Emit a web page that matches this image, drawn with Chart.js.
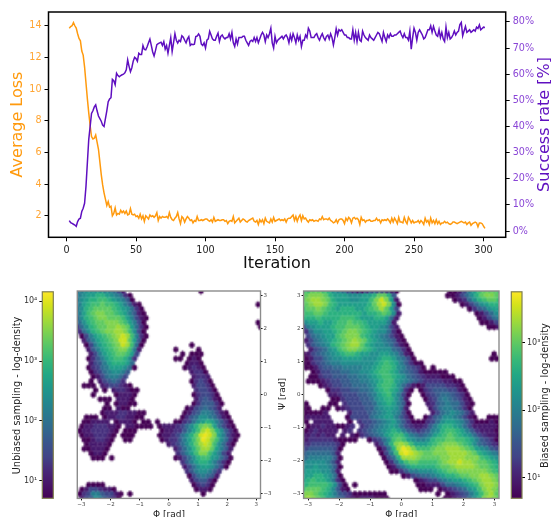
<!DOCTYPE html>
<html>
<head>
<meta charset="utf-8">
<title>Training curves and sampling densities</title>
<script src="https://cdn.jsdelivr.net/npm/chart.js@4"></script>
<style>
    html, body { margin: 0; padding: 0; background: #fff; overflow: hidden; }
    canvas { position: absolute; filter: blur(0.3px); }
</style>
</head>
<body>
<canvas id="curveChart" width="551" height="285" style="left:0;top:0"></canvas>
<canvas id="unbiasedBar" width="60" height="232" style="left:0;top:285px"></canvas>
<canvas id="unbiasedHex" width="215" height="232" style="left:60px;top:285px"></canvas>
<canvas id="biasedHex" width="230" height="232" style="left:275px;top:285px"></canvas>
<canvas id="biasedBar" width="46" height="232" style="left:505px;top:285px"></canvas>
<script>
// Values
const averageLoss = [
    13.85, 13.95, 14.0, 14.2, 14.0, 13.85, 13.5, 13.2, 13.05,
    12.4, 12.15, 11.4, 10.4, 9.4, 8.5, 7.7, 7.0, 6.85, 6.9,
    7.1, 6.65, 6.2, 5.4, 4.6, 3.95, 3.45, 3.05, 2.65, 2.9,
    2.55, 2.6, 2.0, 2.15, 2.5, 2.05, 2.15, 2.1, 2.35, 2.2,
    2.3, 2.15, 2.3, 2.05, 2.1, 2.45, 2.1, 2.05, 2.1, 1.95,
    2.0, 1.85, 2.1, 1.8, 2.0, 1.65, 2.0, 1.9, 1.8, 2.05,
    1.95, 2.0, 1.9, 2.0, 2.2, 1.7, 1.95, 1.85, 1.95, 1.9,
    1.9, 1.95, 1.85, 2.2, 1.9, 1.75, 1.7, 1.85, 1.95, 2.2,
    1.8, 1.5, 1.95, 1.85, 1.6, 1.8, 1.95, 1.85, 1.7, 1.75,
    1.55, 1.7, 1.65, 1.95, 1.7, 1.7, 1.75, 1.7, 1.75, 1.8,
    1.8, 1.7, 1.65, 1.75, 1.6, 1.9, 1.65, 1.7, 1.75, 1.7,
    1.7, 1.75, 1.75, 1.65, 1.7, 1.5, 1.65, 1.7, 1.65, 1.95,
    1.55, 1.65, 1.75, 1.85, 1.6, 1.7, 1.8, 1.75, 1.65, 1.6,
    1.7, 1.75, 1.8, 1.85, 1.65, 1.6, 1.7, 1.45, 1.75, 1.6,
    1.75, 1.5, 1.85, 1.65, 1.6, 1.55, 1.8, 1.6, 1.9, 1.65,
    1.7, 1.75, 1.8, 1.7, 1.75, 1.7, 1.8, 1.6, 1.8, 1.85,
    1.85, 1.95, 2.05, 1.7, 1.95, 1.65, 1.9, 2.05, 1.7, 2.0,
    1.8, 1.85, 1.7, 1.6, 1.75, 1.7, 1.75, 1.65, 1.7, 1.7,
    1.65, 1.8, 1.75, 1.95, 1.75, 1.8, 1.8, 1.75, 1.85, 1.7,
    1.65, 1.55, 1.6, 1.75, 1.55, 1.75, 1.8, 1.8, 1.7, 1.5,
    1.85, 1.7, 1.9, 1.8, 1.55, 1.85, 1.9, 1.8, 1.85, 1.75,
    1.45, 1.9, 1.7, 1.75, 1.6, 1.7, 1.7, 1.75, 1.65, 1.65,
    1.7, 1.7, 1.85, 1.7, 1.75, 1.55, 1.75, 1.7, 1.75, 1.7,
    1.8, 1.7, 1.55, 1.85, 1.6, 1.85, 1.7, 1.5, 1.9, 1.6,
    1.6, 1.55, 1.9, 1.65, 1.5, 1.9, 1.75, 1.55, 1.7, 1.55,
    1.6, 1.6, 1.7, 1.55, 1.7, 1.6, 1.45, 1.85, 1.6, 1.7,
    1.45, 1.85, 1.55, 1.7, 1.5, 1.75, 1.5, 1.65, 1.45, 1.55,
    1.55, 1.65, 1.55, 1.6, 1.5, 1.45, 1.5, 1.6, 1.6, 1.55,
    1.5, 1.55, 1.6, 1.65, 1.6, 1.55, 1.6, 1.45, 1.55, 1.6,
    1.4, 1.5, 1.55, 1.6, 1.55, 1.3, 1.55, 1.55, 1.5, 1.35, 1.2
];

const successRate = [
    4.0, 3.2, 2.9, 2.6, 2.3, 1.8, 3.6, 4.6, 4.9,
    7.5, 8.7, 10.6, 17, 26, 35, 40, 45, 46, 47.5,
    48.3, 46, 44, 43, 42, 40.5, 40, 43, 46, 49.5,
    50.5, 51, 58, 57.5, 56, 60.4, 59.5, 59, 59.5, 59.8,
    60, 60.5, 61.7, 65.5, 63, 61, 62.5, 65, 66.5, 66,
    65, 68, 67.5, 67.5, 71, 69.5, 69.3, 70.5, 72, 73.4,
    71, 68.5, 67, 69, 71.3, 71.7, 72, 72.2, 71, 72.5,
    69.6, 71, 68, 71, 74, 68.7, 72, 75.5, 73, 71.9,
    73, 72.5, 74.7, 74.2, 73, 72, 73.5, 74.4, 71, 71.5,
    71.3, 71.5, 74.4, 74.6, 75.4, 74.5, 71.5, 71, 72, 70,
    73, 73.5, 76.4, 75, 73.5, 73, 73, 74.5, 75.7, 72.5,
    74.5, 75, 74, 73.5, 74, 74, 75.5, 73.5, 76, 72,
    70.6, 73.5, 71.5, 74, 74, 74, 74.5, 74.5, 73, 72,
    71, 72.5, 73, 72.5, 74, 72.5, 74, 72, 73.5, 75,
    76, 75, 72.5, 75, 74, 75.5, 77.6, 72, 70, 74.5,
    72, 73, 73.5, 74, 74.5, 73.5, 74.5, 75, 74, 72,
    75, 73, 75.5, 74, 72, 75, 73, 74.5, 70.6, 73,
    73, 75, 74, 77.6, 76.5, 74, 74, 74, 75, 75.5,
    74, 73, 74.5, 75.5, 74, 73, 74.5, 75, 73.5, 75.5,
    74, 71.2, 74, 77.4, 75, 77, 76.5, 77, 76, 75,
    75, 74, 74, 73.5, 73.5, 77, 73, 76, 72.5, 76,
    73, 72.5, 76.5, 75, 74, 73.5, 73, 75, 74, 73.5,
    73, 74, 75, 76, 75.5, 74, 72.5, 76, 74, 72.5,
    75, 74, 75.5, 74.5, 74.5, 75, 75, 75.5, 76, 76.5,
    75, 74, 75.5, 74, 74, 73, 76.5, 69.6, 74, 77.6,
    76, 73, 76, 77, 76, 75, 73.5, 74, 75.5, 77,
    77, 78.5, 76, 78.3, 76.5, 75, 74.5, 77, 74, 76,
    73.5, 72.5, 78, 74, 76, 73.5, 74, 75, 76.5, 75,
    76, 76.5, 79, 79.8, 74.7, 76.5, 78.3, 76, 76.5, 77,
    76, 76.5, 77, 76.5, 78, 77.5, 78.9, 77, 77.5, 78, 77.9
];

const iterTicks = [0, 50, 100, 150, 200, 250, 300];
const lossTicks = [2, 4, 6, 8, 10, 12, 14];
const rateTicks = [0, 10, 20, 30, 40, 50, 60, 70, 80];
const angleTicks = [-3, -2, -1, 0, 1, 2, 3];
const angleLabels = ['\u22123', '\u22122', '\u22121', '0', '1', '2', '3'];
const unbiasedBarTicks = [10, 100, 1000, 10000];
const unbiasedBarLabels = ['10\u00B9', '10\u00B2', '10\u00B3', '10\u2074'];
const biasedBarTicks = [10, 100, 1000];
const biasedBarLabels = ['10\u00B9', '10\u00B2', '10\u00B3'];

// Hexbin cells, one string per lattice row, top row first.
// Each character is the log-density level of one cell (0-F), '.' is an empty cell.
const _ = n => '.'.repeat(n);

const unbiasedRows = [
    '56777766531' + _(16) + '0',
    '678899876520',
    '57899AA987640',
    '689AABAA986410' + _(25) + '0',
    '579ABBBBA987520',
    '68ABCCBBA986410',
    '479ABCCBBBA86310',
    '579ABBCCCBA8630' + _(24) + '0',
    '2579ABBCCDCB8520' + _(24) + '0',
    '2579ABCCDDCA730',
    '.03689ABCDEDA620',
    '.14689ABCEEB840',
    '..03689ABCEDA50' + _(10) + '0',
    '..14689ABCCA61' + _(7) + '0' + _(4) + '0',
    '...13689ABBA83' + _(9) + '0.000',
    '..024689AA972' + _(8) + '00.010',
    '...1346899985' + _(11) + '0110',
    '..02356888750' + _(10) + '01210',
    '...023567764' + _(13) + '1220',
    '...01356653' + _(14) + '1221',
    '...0.134542' + _(14) + '02320',
    '.000.1233210' + _(13) + '13320',
    '....0.0.122100' + _(12) + '23320',
    '...0....01110' + _(12) + '023320',
    '.....000.1110' + _(13) + '134310',
    '......0.01100' + _(12) + '0244420',
    '......00.100' + _(12) + '01345431',
    '.....0111221100' + _(8) + '0134665310',
    '..000.011221100' + _(8) + '02457765310',
    '.001111.01110.00.0...0023578986420',
    '.011222110.110000.011123579BCB85310',
    '011222210.000.....01122468ADEC97420',
    '.01122210.000.....01123579BEFEC86310',
    '.0012210..00......0122468ACFECA7520',
    '..011110' + _(12) + '123579BDEDA7520',
    '.001110' + _(14) + '13579BDDB8641',
    '...0110' + _(15) + '2468ACCA8631',
    '...000.0' + _(13) + '013579AA87530',
    _(23) + '24689986420',
    _(23) + '1357887530',
    _(24) + '24677642',
    _(24) + '0356541',
    _(25) + '134420',
    '..0000' + _(19) + '02320',
    '.01332110' + _(17) + '0110',
    '0236643310.0' + _(15) + '0',
    '.134764320'
];

const biasedRows = [
    'AABBA976532112333210' + _(10) + '001368ABBBA',
    'BCCCB9888777889BB94' + _(10) + '0013579BCCB',
    'BCDDCB98887788ACEC81' + _(11) + '012579ABBA',
    'BCDDCA98888889BDEC70' + _(12) + '01357899',
    'ABBCBA98999889ABDB83' + _(14) + '0245788',
    'AABBA9999999899ABA71' + _(15) + '01357',
    '999A9999AAA988899851' + _(16) + '01356',
    '7889889AABAA9888861' + _(17) + '0013',
    '3678889AABBBA9887631' + _(18) + '001',
    '2577889ABCCBA9877520',
    '.356788ABCCCA98765310',
    '1356789ABCDCB98765410',
    '.245679ABCDDB987765310',
    '.134578ABCCBA987775420',
    '013456789AA988778876410' + _(16) + '0',
    '01335677888877789986530' + _(15) + '00',
    '00234566777777789A9864200',
    '0013445566667789AA9764320.0',
    '..01334455667789AA986543100000',
    '.002334445566789AA9875432111000',
    '.0001233445566789AA87654322221100',
    '...0123344555679AA975310133332210',
    '.....022334455689A98620.0234443310',
    '.....112333445689A8630..0234554320',
    '......0023334457899751...0235654310',
    '0....00.23334457898640...1245655310',
    '00..00.012333446788751....135665420',
    '00001....1333456787630....135676531',
    '011111...03333567886420..02457765310..000',
    '0.1111...0.23345678642000235788764200010',
    '.0112110012.23456787532112468998753111110',
    '0121111.12.234567898643234679AA986421110',
    '1121211.1.102345689AA86545689ABA987532110',
    '12222210000..02357ABA876679AABBAA9864320',
    '223333320......1369CDCA8889ABCCCBA9754321',
    '34444430.......0259DFECAAABCCDDDCBA87643',
    '45555541........036AEFEDCBBCCCDDDDCB98765',
    '56666640........0359DDDCBBBBCCDDDCCCA987',
    '67777641.........0258ABBAAAABCDDEDDCBBA98',
    '77877640.........0146899999ABBCDDDDCBBA9',
    '78887751..........00246677789ABBCCCCCCBA9',
    '88998750............01345567899ABBCCDDCB',
    '89A998620' + _(14) + '01233567889ABCDDCB',
    '9AAAA9730.0' + _(12) + '001113556789ACDDC',
    'ABBBA97410' + _(14) + '000.01234578ACDCB',
    'CCBA9864320000000' + _(10) + '0.0123468ACDB',
    'CDCBA8754210111000' + _(11) + '00123579CDCB'
];

// viridis as used by the colour bars
const viridis = ['#440154', '#481567', '#482878', '#414487', '#3a548c', '#31688e', '#2a788e', '#23888e',
    '#1f988b', '#22a884', '#35b779', '#54c568', '#7ad151', '#a5db36', '#d2e21b', '#fde725'];

// colour of each cell level, levels were read a bit low so they sit higher up the colour bar
const levelColors = ['#440154', '#471a6d', '#46307e', '#3f4788', '#375a8c', '#2f6c8e', '#277d8e', '#218e8d',
    '#1f9e89', '#2ab07f', '#3fbc73', '#5ec962', '#7fd34e', '#a0da39', '#cae11f', '#ebe51f'];

const FONT = "'DejaVu Sans', sans-serif";
const ORANGE = '#ff9a0e';
const PURPLE = '#5f0fc0';
const HEX_SOFTEN = 0.6; // cells are drawn at this scale and stretched back, the picture is soft too

const iterations = averageLoss.map((v, i) => i + 2);

// Chart.js has no rotated right-hand title that reads upward, so all axis titles go through this
function axisTexts(items) {
    return {
        id: 'axisTexts',
        afterDraw(chart) {
            const c = chart.ctx;
            items.forEach(t => {
                c.save();
                c.translate(t.x, t.y);
                if (t.rot) c.rotate(-Math.PI / 2);
                c.font = t.size + 'px ' + FONT;
                c.fillStyle = t.color || '#000';
                c.textAlign = 'center';
                c.textBaseline = 'middle';
                c.fillText(t.text, 0, 0);
                c.restore();
            });
        }
    };
}

function frame(color, width) {
    return {
        id: 'frame',
        afterDatasetsDraw(chart) {
            const a = chart.chartArea;
            const c = chart.ctx;
            c.save();
            c.strokeStyle = color;
            c.lineWidth = width;
            c.strokeRect(a.left, a.top, a.right - a.left, a.bottom - a.top);
            c.restore();
        }
    };
}

// Draws the scatter points of the dataset as hexagons at the positions the scales gave them
const hexCells = {
    id: 'hexCells',
    afterDatasetsDraw(chart) {
        const a = chart.chartArea;
        const colors = chart.data.datasets[0].pointBackgroundColor;
        const w = chart.scales.x.getPixelForValue(Math.PI / 40) - chart.scales.x.getPixelForValue(0);
        const h = chart.scales.y.getPixelForValue(0) - chart.scales.y.getPixelForValue(2 * Math.PI / 69);
        const scratch = document.createElement('canvas');
        scratch.width = Math.round(chart.width * HEX_SOFTEN);
        scratch.height = Math.round(chart.height * HEX_SOFTEN);
        const s = scratch.getContext('2d');
        s.scale(scratch.width / chart.width, scratch.height / chart.height);
        s.lineWidth = 0.6;
        chart.getDatasetMeta(0).data.forEach((p, i) => {
            s.fillStyle = colors[i];
            s.strokeStyle = colors[i];
            s.beginPath();
            s.moveTo(p.x, p.y - h);
            s.lineTo(p.x + w, p.y - h / 2);
            s.lineTo(p.x + w, p.y + h / 2);
            s.lineTo(p.x, p.y + h);
            s.lineTo(p.x - w, p.y + h / 2);
            s.lineTo(p.x - w, p.y - h / 2);
            s.closePath();
            s.fill();
            s.stroke();
        });
        const c = chart.ctx;
        c.save();
        c.beginPath();
        c.rect(a.left, a.top, a.right - a.left, a.bottom - a.top);
        c.clip();
        c.imageSmoothingEnabled = true;
        c.drawImage(scratch, 0, 0, chart.width, chart.height);
        c.restore();
    }
};

function fixedTicks(values) {
    return scale => { scale.ticks = values.map(v => ({ value: v })); };
}

function tickStyle(labels, color, size, padding) {
    return {
        color: color,
        font: { family: FONT, size: size },
        padding: padding,
        autoSkip: false,
        maxRotation: 0,
        callback: (v, i) => labels[i]
    };
}

function tickMarks(length) {
    return { drawOnChartArea: false, drawTicks: true, tickLength: length, color: '#000', lineWidth: 1 };
}

function initCurveChart() {
    new Chart(document.getElementById('curveChart'), {
        type: 'line',
        data: {
            labels: iterations,
            datasets: [
                {
                    data: successRate, yAxisID: 'y2', borderColor: PURPLE, borderWidth: 1.5,
                    pointRadius: 0, tension: 0, order: 0
                },
                {
                    data: averageLoss, yAxisID: 'y', borderColor: ORANGE, borderWidth: 1.5,
                    pointRadius: 0, tension: 0, order: 1
                }
            ]
        },
        options: {
            responsive: false,
            animation: false,
            devicePixelRatio: 1,
            layout: { padding: { top: 12 } },
            plugins: { legend: { display: false }, tooltip: { enabled: false } },
            scales: {
                x: {
                    type: 'linear', min: -12.95, max: 315.95,
                    afterBuildTicks: fixedTicks(iterTicks),
                    afterFit: s => { s.height = 47.7; },
                    grid: tickMarks(4), border: { display: false },
                    ticks: tickStyle(iterTicks, '#222', 9.6, 3)
                },
                y: {
                    position: 'left', min: 0.64, max: 14.87,
                    afterBuildTicks: fixedTicks(lossTicks),
                    afterFit: s => { s.width = 48.5; },
                    grid: tickMarks(4), border: { display: false },
                    ticks: tickStyle(lossTicks, '#ffa533', 9.6, 3)
                },
                y2: {
                    position: 'right', min: -2.4, max: 83.8,
                    afterBuildTicks: fixedTicks(rateTicks),
                    afterFit: s => { s.width = 45.3; },
                    grid: tickMarks(4), border: { display: false },
                    ticks: tickStyle(rateTicks.map(v => v + '%'), '#8a45d6', 9.6, 3)
                }
            }
        },
        plugins: [
            frame('#000', 1.5),
            axisTexts([
                { text: 'Average Loss', x: 18, y: 124.5, rot: true, size: 16, color: ORANGE },
                { text: 'Success rate [%]', x: 545, y: 124.5, rot: true, size: 16, color: PURPLE },
                { text: 'Iteration', x: 277, y: 264, size: 16, color: '#111' }
            ])
        ]
    });
}

// Turns the row strings into scatter points and their colours
function buildCells(rows) {
    const top = rows.length - 1;
    const points = [];
    const colors = [];
    rows.forEach((row, r) => {
        const k = top - r;
        for (let i = 0; i < row.length; i++) {
            if (row[i] === '.') continue;
            points.push({
                x: -Math.PI + (i + (k % 2 ? 0.5 : 0)) * 2 * Math.PI / 40,
                y: -Math.PI + k * 2 * Math.PI / 46
            });
            colors.push(levelColors[parseInt(row[i], 16)]);
        }
    });
    return { points, colors };
}

function initHexChart(id, rows, cfg) {
    const cells = buildCells(rows);
    new Chart(document.getElementById(id), {
        type: 'scatter',
        data: { datasets: [{ data: cells.points, pointBackgroundColor: cells.colors, pointRadius: 0 }] },
        options: {
            responsive: false,
            animation: false,
            devicePixelRatio: 1,
            layout: { padding: cfg.padding },
            plugins: { legend: { display: false }, tooltip: { enabled: false } },
            scales: {
                x: {
                    type: 'linear', min: -Math.PI, max: Math.PI,
                    afterBuildTicks: fixedTicks(angleTicks),
                    afterFit: s => { s.height = 18.6; },
                    grid: tickMarks(2), border: { display: false },
                    ticks: tickStyle(angleLabels, '#444', 5.5, 1)
                },
                y: {
                    position: cfg.yPosition, min: -Math.PI, max: Math.PI,
                    afterBuildTicks: fixedTicks(angleTicks),
                    afterFit: s => { s.width = cfg.yWidth; },
                    grid: tickMarks(2), border: { display: false },
                    ticks: tickStyle(angleLabels, '#444', 5.5, 1)
                }
            }
        },
        plugins: [hexCells, frame('#8c8c8c', 1.4), axisTexts(cfg.texts)]
    });
}

function initColorBar(id, range, ticks, labels, cfg) {
    new Chart(document.getElementById(id), {
        type: 'bar',
        data: {
            labels: [''],
            datasets: [{
                data: [range],
                barPercentage: 1,
                categoryPercentage: 1,
                backgroundColor: ctx => {
                    const a = ctx.chart.chartArea;
                    if (!a) return viridis[0];
                    const g = ctx.chart.ctx.createLinearGradient(0, a.bottom, 0, a.top);
                    viridis.forEach((c, i) => g.addColorStop(i / (viridis.length - 1), c));
                    return g;
                }
            }]
        },
        options: {
            responsive: false,
            animation: false,
            devicePixelRatio: 1,
            layout: { padding: cfg.padding },
            plugins: { legend: { display: false }, tooltip: { enabled: false } },
            scales: {
                x: { display: false },
                y: {
                    type: 'logarithmic', position: cfg.yPosition, min: range[0], max: range[1],
                    afterBuildTicks: fixedTicks(ticks),
                    afterFit: s => { s.width = cfg.yWidth; },
                    grid: tickMarks(3), border: { display: false },
                    ticks: tickStyle(labels, '#333', 8, 2)
                }
            }
        },
        plugins: [frame('#7f7f50', 1.2), axisTexts(cfg.texts)]
    });
}

document.addEventListener('DOMContentLoaded', function () {
    initCurveChart();

    initColorBar('unbiasedBar', [5.1, 14350], unbiasedBarTicks, unbiasedBarLabels, {
        padding: { top: 6.3, bottom: 18.7, right: 6.7 },
        yPosition: 'left',
        yWidth: 42.3,
        texts: [{ text: 'Unbiased sampling - log-density', x: 17, y: 110.5, rot: true, size: 9.8, color: '#222' }]
    });

    initHexChart('unbiasedHex', unbiasedRows, {
        padding: { top: 6, left: 17.3 },
        yPosition: 'right',
        yWidth: 14.5,
        texts: [{ text: '\u03A6 [rad]', x: 109, y: 229.5, size: 9, color: '#222' }]
    });

    initHexChart('biasedHex', biasedRows, {
        padding: { top: 6, right: 6 },
        yPosition: 'left',
        yWidth: 28.6,
        texts: [
            { text: '\u03A6 [rad]', x: 126.3, y: 229.5, size: 9, color: '#222' },
            { text: '\u03A8 [rad]', x: 8, y: 109, rot: true, size: 9, color: '#222' }
        ]
    });

    initColorBar('biasedBar', [4.97, 5670], biasedBarTicks, biasedBarLabels, {
        padding: { top: 6.3, bottom: 18.7, left: 6.3 },
        yPosition: 'right',
        yWidth: 29,
        texts: [{ text: 'Biased sampling - log-density', x: 40.7, y: 110.5, rot: true, size: 9.8, color: '#222' }]
    });
});
</script>
</body>
</html>
